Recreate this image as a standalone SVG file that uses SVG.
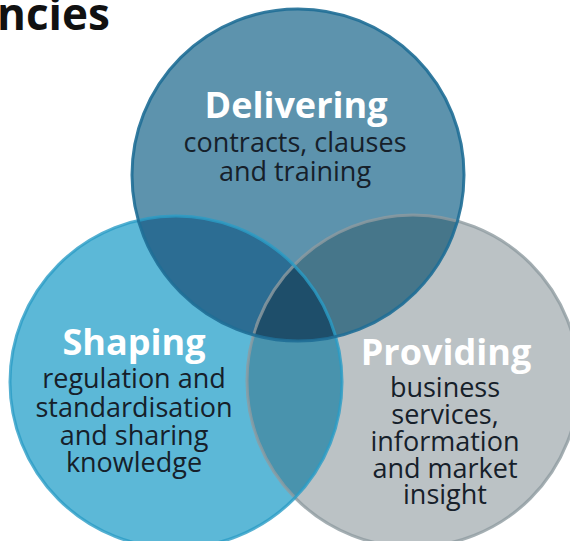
<svg xmlns="http://www.w3.org/2000/svg" width="570" height="541" viewBox="0 0 570 541">
<style>
.title{font-family:"Open Sans","Liberation Sans",sans-serif;font-weight:bold;font-size:36px;fill:#ffffff;text-anchor:middle}
.body{font-family:"Open Sans","Liberation Sans",sans-serif;font-size:27px;fill:#16202a;text-anchor:middle}
.head{font-family:"Open Sans","Liberation Sans",sans-serif;font-weight:bold;font-size:44px;fill:#111111}
</style>
<defs>
<clipPath id="cT"><circle cx="298" cy="175" r="166"/></clipPath>
<clipPath id="cL"><circle cx="176" cy="382" r="166"/></clipPath>
<clipPath id="cR"><circle cx="413" cy="381" r="166"/></clipPath>
</defs>
<rect width="570" height="541" fill="#ffffff"/>
<text class="head" x="-3" y="30">ncies</text>
<g id="fills">
<circle cx="413" cy="381" r="166" fill="#bbc2c5"/>
<circle cx="176" cy="382" r="166" fill="#5cb8d7"/>
<circle cx="298" cy="175" r="166" fill="#5d93ad"/>
<circle cx="176" cy="382" r="166" fill="#2c6d93" clip-path="url(#cT)"/>
<circle cx="413" cy="381" r="166" fill="#46768a" clip-path="url(#cT)"/>
<circle cx="413" cy="381" r="166" fill="#4993ad" clip-path="url(#cL)"/>
<g clip-path="url(#cT)"><circle cx="413" cy="381" r="166" fill="#1e4e6a" clip-path="url(#cL)"/></g>
</g>
<g id="outlines" fill="none" stroke-width="3">
<circle cx="413" cy="381" r="166" stroke="#8f9ba0" stroke-opacity="0.8"/>
<circle cx="176" cy="382" r="166" stroke="#2a9cc6" stroke-opacity="0.8"/>
<circle cx="298" cy="175" r="166" stroke="#1f6e96" stroke-opacity="0.9"/>
</g>
<g id="delivering">
<text class="title" x="296" y="118">Delivering</text>
<text class="body" x="295" y="152">contracts, clauses</text>
<text class="body" x="295" y="181">and training</text>
</g>
<g id="shaping">
<text class="title" x="134" y="355">Shaping</text>
<text class="body" x="134" y="388">regulation and</text>
<text class="body" x="134" y="417">standardisation</text>
<text class="body" x="134" y="445">and sharing</text>
<text class="body" x="134" y="472">knowledge</text>
</g>
<g id="providing">
<text class="title" x="446" y="365">Providing</text>
<text class="body" x="445" y="397">business</text>
<text class="body" x="445" y="424">services,</text>
<text class="body" x="445" y="451">information</text>
<text class="body" x="445" y="478">and market</text>
<text class="body" x="445" y="504">insight</text>
</g>
</svg>
